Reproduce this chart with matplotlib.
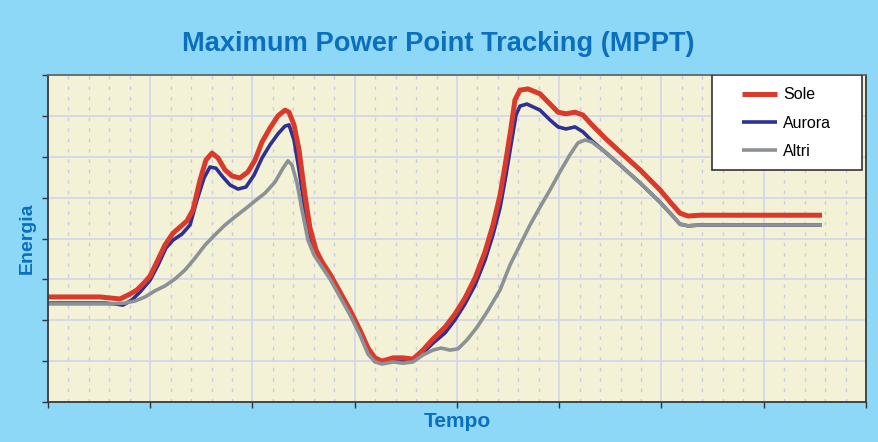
import numpy as np
from matplotlib import pyplot as plt
from matplotlib.patches import Rectangle
from matplotlib.ticker import MultipleLocator

# Tempo / Energia (arbitrary units, axes 0..80)
sole_x = [0, 5.09, 6.26, 7.04, 8.02, 8.70, 9.49, 9.98, 10.66, 11.44, 12.22, 12.91, 13.59, 14.18,
          14.87, 15.45, 16.04, 16.63, 17.31, 17.99, 18.77, 19.56, 20.25, 20.93, 21.71, 22.49,
          23.18, 23.57, 24.06, 24.55, 25.13, 25.62, 26.21, 26.80, 27.58, 28.56, 29.54, 30.51,
          31.30, 31.98, 32.67, 33.76, 34.72, 35.70, 36.67, 37.65, 38.83, 39.80, 40.78, 41.76,
          42.74, 43.52, 44.21, 44.79, 45.28, 45.67, 46.16, 46.94, 48.12, 49.10, 49.88, 50.66,
          51.54, 52.32, 53.20, 54.47, 55.94, 57.90, 59.85, 61.03, 61.81, 62.59, 63.77, 65.72, 75.70]
sole_y = [25.7, 25.7, 25.4, 25.2, 26.4, 27.4, 29.4, 30.8, 34.3, 38.4, 41.3, 42.8, 44.3, 47.0,
          54.3, 59.2, 60.9, 59.7, 56.8, 55.3, 54.8, 56.3, 59.2, 63.6, 67.0, 70.0,
          71.4, 70.9, 67.8, 61.7, 50.6, 42.6, 37.2, 34.3, 31.3, 26.9, 22.5, 17.6,
          13.2, 10.8, 10.0, 10.8, 10.8, 10.5, 12.7, 15.4, 18.3, 21.5, 25.4, 30.3,
          36.7, 43.3, 50.6, 59.2, 67.0, 73.9, 76.3, 76.6, 75.4, 72.9, 70.9, 70.5,
          70.9, 70.2, 67.8, 64.6, 61.2, 56.8, 51.9, 48.4, 46.2, 45.5, 45.7, 45.7, 45.7]

aurora_x = [0, 5.57, 6.55, 7.33, 8.22, 9.00, 9.98, 10.76, 11.54, 12.22, 13.11, 13.89, 14.57,
            15.26, 15.84, 16.43, 17.02, 17.80, 18.58, 19.36, 20.15, 20.93, 21.71, 22.49, 23.18,
            23.57, 24.06, 24.55, 25.13, 25.62, 26.21, 26.80, 27.58, 28.56, 29.54, 30.51, 31.30,
            31.98, 32.67, 33.76, 34.72, 35.70, 36.67, 37.65, 38.83, 39.80, 40.78, 41.76, 42.74,
            43.52, 44.21, 44.79, 45.28, 45.77, 46.16, 46.84, 48.12, 49.10, 49.88, 50.66, 51.54,
            52.32, 53.20, 54.47, 55.94, 57.90, 59.85, 61.03, 61.81, 62.59, 63.77, 65.72, 75.70]
aurora_y = [24.2, 24.2, 24.0, 23.7, 25.0, 26.9, 29.8, 33.5, 37.7, 39.6, 41.1, 43.3, 49.4,
            54.8, 57.5, 57.2, 55.3, 53.1, 52.1, 52.6, 55.5, 59.7, 62.9, 65.6, 67.5,
            67.8, 64.1, 56.8, 47.0, 40.9, 36.0, 33.5, 30.6, 26.2, 21.8, 16.9, 12.2,
            10.0, 9.5, 10.0, 9.8, 10.0, 12.0, 14.4, 16.9, 20.1, 24.0, 28.6, 34.7,
            40.9, 47.5, 55.5, 62.9, 70.2, 72.4, 72.9, 71.4, 69.0, 67.3, 66.8, 67.3,
            66.1, 63.9, 61.2, 58.0, 53.6, 48.9, 45.7, 43.5, 43.1, 43.3, 43.3, 43.3]

altri_x = [0, 6.06, 7.53, 8.51, 9.49, 10.46, 11.44, 12.42, 13.40, 14.38, 15.36, 16.33, 17.31,
           18.29, 19.27, 20.25, 21.22, 22.20, 22.98, 23.47, 23.86, 24.35, 24.84, 25.43, 26.01,
           26.80, 27.58, 28.56, 29.54, 30.51, 31.30, 31.98, 32.67, 33.76, 34.72, 35.70, 36.67,
           37.65, 38.44, 39.31, 40.10, 40.98, 41.96, 42.93, 44.21, 45.18, 46.16, 47.14, 48.12,
           49.10, 50.07, 51.05, 51.83, 52.54, 53.20, 54.47, 55.94, 57.90, 59.85, 61.03, 61.81,
           62.59, 63.77, 65.72, 75.70]
altri_y = [24.0, 24.0, 24.2, 24.7, 25.7, 27.2, 28.4, 30.1, 32.3, 35.2, 38.4, 40.9, 43.3,
           45.3, 47.2, 49.2, 51.1, 53.8, 57.2, 59.0, 58.0, 53.6, 47.0, 39.6, 36.0,
           33.0, 30.1, 25.7, 21.3, 16.4, 11.7, 9.8, 9.3, 9.8, 9.5, 9.8, 11.5,
           12.7, 13.2, 12.7, 13.0, 15.2, 18.3, 22.0, 27.4, 33.5, 38.4, 43.3, 47.7,
           51.9, 56.3, 60.5, 63.4, 64.1, 63.6, 61.2, 58.0, 53.6, 48.9, 45.7, 43.5,
           43.1, 43.3, 43.3, 43.3]

title_color = "#0B6FBE"


def main():
    plt.rcParams["font.family"] = ["Liberation Sans", "DejaVu Sans"]

    fig = plt.figure(figsize=(8.79, 4.42), dpi=100, facecolor="#8DD8F7")
    ax = fig.add_axes([0.0546, 0.0905, 0.9306, 0.7398])
    ax.set_facecolor("#F3F2D6")

    l_aurora, = ax.plot(aurora_x, aurora_y, color="#2E3192", linewidth=2.6,
                        solid_joinstyle="round", solid_capstyle="butt", label="Aurora")
    l_sole, = ax.plot(sole_x, sole_y, color="#D93A2B", linewidth=3.6,
                      solid_joinstyle="round", solid_capstyle="butt", label="Sole")
    l_altri, = ax.plot(altri_x, altri_y, color="#8C9196", linewidth=2.6,
                       solid_joinstyle="round", solid_capstyle="butt", label="Altri")

    ax.set_xlim(0, 80)
    ax.set_ylim(0, 80)
    ax.xaxis.set_major_locator(MultipleLocator(10))
    ax.xaxis.set_minor_locator(MultipleLocator(2))
    ax.yaxis.set_major_locator(MultipleLocator(10))
    ax.set_xticklabels([])
    ax.set_yticklabels([])
    ax.tick_params(axis="both", which="major", direction="out", length=4, width=1, color="#333333")
    ax.tick_params(axis="x", which="minor", length=0)

    ax.grid(which="major", color="#D2D5EC", linewidth=1.2)
    ax.grid(which="minor", axis="x", color="#C8CBE6", linewidth=1, linestyle=(0, (2.5, 5)))
    ax.set_axisbelow(True)

    for s in ax.spines.values():
        s.set_color("#3A3A3A")
        s.set_linewidth(1.3)
    ax.spines["top"].set_color("#666666")

    fig.text(0.499, 0.9, "Maximum Power Point Tracking (MPPT)", ha="center", va="center",
             fontsize=19.6, fontweight="bold", color=title_color)
    ax.set_xlabel("Tempo", fontsize=15, fontweight="bold", color=title_color, labelpad=0)
    ax.set_ylabel("Energia", fontsize=14, fontweight="bold", color=title_color, labelpad=1)

    # legend box drawn separately so it can be as wide as in the original
    box = Rectangle((0.8117, 0.7095), 0.1834, 0.2905, transform=ax.transAxes,
                    facecolor="white", edgecolor="#333333", linewidth=1.2, zorder=4)
    ax.add_patch(box)
    leg = ax.legend([l_sole, l_aurora, l_altri], ["Sole", "Aurora", "Altri"],
                    loc="upper left", bbox_to_anchor=(0.848, 0.963), borderaxespad=0,
                    borderpad=0, fontsize=11.5, handlelength=2.2, labelspacing=0.84,
                    handletextpad=0.4, frameon=False)
    leg.set_zorder(5)

    fig.savefig("out.png", dpi=100, facecolor=fig.get_facecolor())


if __name__ == '__main__':
    main()
